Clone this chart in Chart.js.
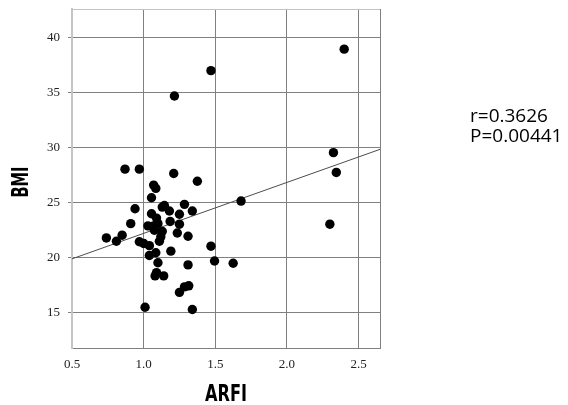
<!DOCTYPE html>
<html lang="en">
<head>
    <meta charset="UTF-8">
    <title>ARFI vs BMI</title>
    <script src="https://cdn.jsdelivr.net/npm/chart.js"></script>
    <style>
        html, body { margin: 0; padding: 0; background: #fff; }
        .chart-box { position: relative; width: 568px; height: 405px; }
    </style>
</head>
<body>
    <div class="chart-box">
        <canvas id="scatterChart"></canvas>
    </div>

    <script>
        // values
        const arfi = [0.74, 0.81, 0.85, 0.91, 0.94, 0.87, 0.97, 0.97, 1.00, 1.04,
                      1.04, 1.01, 1.07, 1.085, 1.055, 1.21, 1.055, 1.09, 1.03, 1.07,
                      1.10, 1.075, 1.13, 1.145, 1.18, 1.185, 1.285, 1.25, 1.25, 1.235,
                      1.31, 1.34, 1.13, 1.12, 1.11, 1.19, 1.085, 1.10, 1.09, 1.08,
                      1.14, 1.31, 1.285, 1.315, 1.25, 1.34, 1.375, 1.68, 2.30, 1.47,
                      1.495, 1.625, 1.215, 1.47, 2.40, 2.325, 2.345];
        const bmi = [21.8, 21.5, 22.05, 23.1, 24.45, 28.05, 28.05, 21.45, 21.3, 21.1,
                     20.2, 15.5, 26.6, 26.3, 25.45, 27.65, 24.0, 23.6, 22.9, 22.9,
                     23.1, 22.5, 24.6, 24.75, 24.25, 23.3, 24.85, 23.95, 23.05, 22.25,
                     21.95, 24.25, 22.4, 21.9, 21.5, 20.6, 20.45, 19.55, 18.65, 18.35,
                     18.35, 19.35, 17.35, 17.45, 16.85, 15.3, 26.95, 25.15, 23.05, 21.05,
                     19.7, 19.5, 34.7, 37.0, 38.95, 29.55, 27.75];

        // regression line, ends at the plot edges
        const trendX = [0.5, 2.65];
        const trendY = [19.9, 29.85];

        const xTicks = [0.5, 1.0, 1.5, 2.0, 2.5];
        const yTicks = [15, 20, 25, 30, 35, 40];

        const statLines = ['r=0.3626', 'P=0.00441'];

        const points = arfi.map((x, i) => ({ x: x, y: bmi[i] }));
        const trend = trendX.map((x, i) => ({ x: x, y: trendY[i] }));

        // frame, axis titles and the r / P note
        const extras = {
            id: 'extras',
            afterDraw(chart) {
                const ctx = chart.ctx;
                const a = chart.chartArea;
                ctx.save();
                ctx.lineWidth = 1;
                ctx.strokeStyle = '#c4c4c4';
                ctx.beginPath();
                ctx.moveTo(a.left, a.top + 0.5);
                ctx.lineTo(a.right, a.top + 0.5);
                ctx.stroke();
                ctx.strokeStyle = '#808080';
                ctx.beginPath();
                ctx.moveTo(a.right + 0.5, a.top);
                ctx.lineTo(a.right + 0.5, a.bottom);
                ctx.stroke();

                ctx.fillStyle = '#000';
                ctx.font = 'bold 23px "DejaVu Sans Condensed", "DejaVu Sans", sans-serif';
                ctx.textAlign = 'center';
                ctx.textBaseline = 'alphabetic';

                // x title, squeezed to the narrow look of the original
                let w = ctx.measureText('ARFI').width;
                ctx.save();
                ctx.translate(226, 401);
                ctx.scale(42 / w, 1);
                ctx.fillText('ARFI', 0, 0);
                ctx.restore();

                w = ctx.measureText('BMI').width;
                ctx.save();
                ctx.translate(28, 182);
                ctx.rotate(-Math.PI / 2);
                ctx.scale(31 / w, 1);
                ctx.fillText('BMI', 0, 0);
                ctx.restore();

                ctx.font = '19px "Open Sans", sans-serif';
                ctx.textAlign = 'left';
                statLines.forEach((t, i) => ctx.fillText(t, 470, 122 + i * 20));
                ctx.restore();
            }
        };

        const ctxScatter = document.getElementById('scatterChart').getContext('2d');
        const scatterChart = new Chart(ctxScatter, {
            type: 'scatter',
            data: {
                datasets: [{
                    data: points,
                    backgroundColor: '#000',
                    borderWidth: 0,
                    pointRadius: 4.7
                }, {
                    data: trend,
                    showLine: true,
                    pointRadius: 0,
                    borderColor: '#4d4d4d',
                    borderWidth: 1
                }]
            },
            options: {
                responsive: true,
                maintainAspectRatio: false,
                animation: false,
                layout: { padding: { left: 0, right: 188, top: 9, bottom: 0 } },
                plugins: {
                    legend: { display: false },
                    tooltip: { enabled: false }
                },
                scales: {
                    x: {
                        type: 'linear',
                        min: 0.5,
                        max: 2.65,
                        afterBuildTicks: s => { s.ticks = xTicks.map(v => ({ value: v })); },
                        afterFit: s => {
                            s.height = 57;
                            s.paddingLeft = 0;
                            s.paddingRight = 0;
                        },
                        grid: { color: '#808080', drawTicks: false },
                        border: { color: '#808080', width: 1 },
                        ticks: {
                            padding: 9,
                            color: '#222',
                            font: { family: '"Liberation Serif", "Times New Roman", serif', size: 13 },
                            callback: v => v.toFixed(1)
                        }
                    },
                    y: {
                        min: 11.8,
                        max: 42.6,
                        afterBuildTicks: s => { s.ticks = yTicks.map(v => ({ value: v })); },
                        afterFit: s => {
                            s.width = 72;
                            s.paddingTop = 0;
                            s.paddingBottom = 0;
                        },
                        grid: { color: '#808080', tickLength: 4 },
                        border: { color: '#c4c4c4', width: 2 },
                        ticks: {
                            padding: 8,
                            color: '#222',
                            font: { family: '"Liberation Serif", "Times New Roman", serif', size: 13 }
                        }
                    }
                }
            },
            plugins: [extras]
        });
    </script>
</body>
</html>
